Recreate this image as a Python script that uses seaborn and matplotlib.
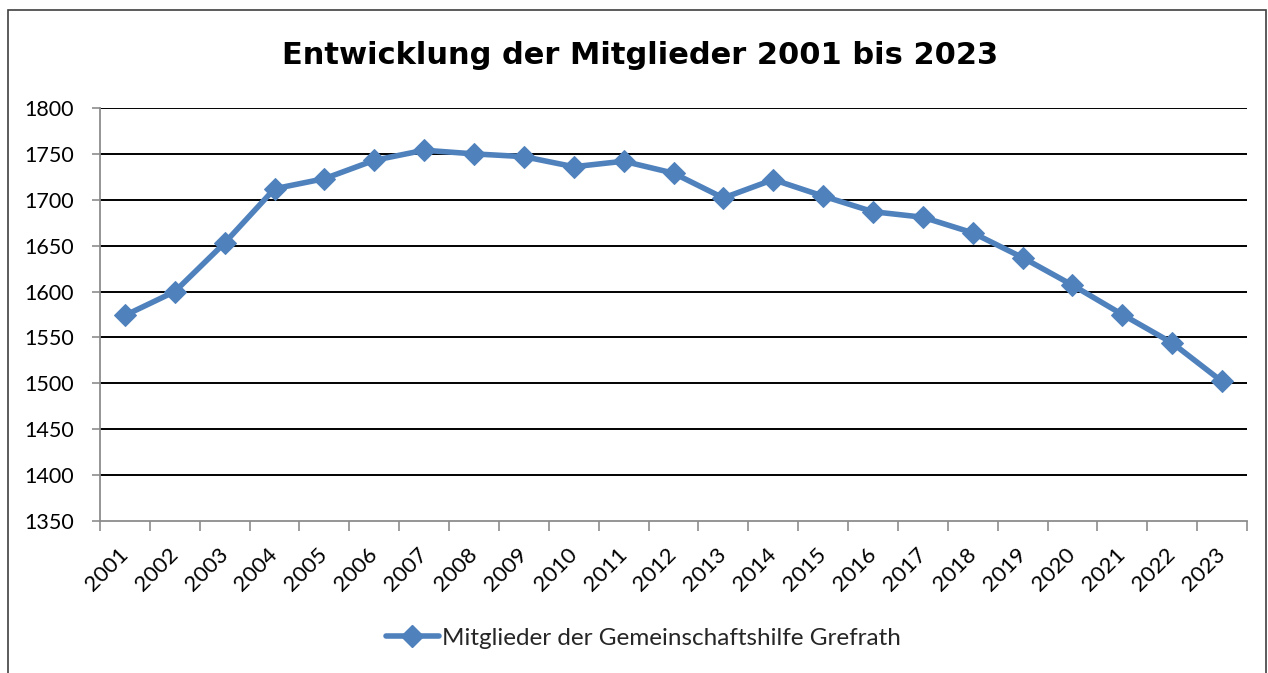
import matplotlib
matplotlib.use("Agg")
import matplotlib.pyplot as plt
import matplotlib.transforms as mtransforms
import seaborn as sns
import pandas as pd
from matplotlib.patches import Rectangle
from matplotlib.lines import Line2D

years = [str(y) for y in range(2001, 2024)]
members = [1574, 1600, 1653, 1712, 1723, 1743, 1754, 1750, 1747, 1736, 1742, 1729,
           1702, 1722, 1704, 1687, 1681, 1664, 1637, 1607, 1575, 1544, 1502]
series_name = "Mitglieder der Gemeinschaftshilfe Grefrath"
title = "Entwicklung der Mitglieder 2001 bis 2023"
yticks = [1350, 1400, 1450, 1500, 1550, 1600, 1650, 1700, 1750, 1800]

sns.set_theme(style="white")
plt.rcParams['font.family'] = ['Lato', 'DejaVu Sans']

df = pd.DataFrame({"Jahr": years, "Mitglieder": members})

W, H = 1268, 673
fig = plt.figure(figsize=(W / 100, H / 100), dpi=100)
fig.patch.set_facecolor("white")

# outer chart border
fig.patches.append(Rectangle((8 / W, -0.02), (1266 - 8) / W, 1 - 10 / H + 0.02,
                             transform=fig.transFigure, fill=False,
                             edgecolor="#404040", linewidth=1.2))

ax = fig.add_axes([100 / W, (H - 521) / H, (1247 - 100) / W, (521 - 108) / H])
color = "#4F81BD"
sns.lineplot(data=df, x="Jahr", y="Mitglieder", ax=ax, color=color, linewidth=4,
             marker="D", markersize=11, markeredgecolor=color, sort=False, legend=False)

ax.set_xlim(-0.5, len(years) - 0.5)
ax.set_ylim(1350, 1800)
ax.set_yticks(yticks)
ax.set_yticklabels([str(v) for v in yticks], fontsize=15.5, color="black")
ax.set_xticks(range(len(years)))
ax.set_xticklabels(years, rotation=45, ha="right", rotation_mode="anchor",
                   fontsize=16, color="black")
ax.set_xlabel("")
ax.set_ylabel("")

ax.grid(False)
for v in yticks[1:]:
    ax.axhline(v, color="black", linewidth=1.4, zorder=0)

for s in ["top", "right"]:
    ax.spines[s].set_visible(False)
for s in ["left", "bottom"]:
    ax.spines[s].set_color("#8c8c8c")
    ax.spines[s].set_linewidth(1.3)

ax.tick_params(axis="y", which="major", direction="out", length=6, width=1.2,
               color="#8c8c8c", pad=13, left=True)
ax.tick_params(axis="x", which="major", length=0, pad=17)
ax.set_xticks([i - 0.5 for i in range(len(years) + 1)], minor=True)
ax.tick_params(axis="x", which="minor", direction="out", length=7, width=1.2,
               color="#8c8c8c", bottom=True)
offset = mtransforms.ScaledTranslation(-5 / 72, 0, fig.dpi_scale_trans)
for lab in ax.get_xticklabels():
    lab.set_transform(lab.get_transform() + offset)

fig.text(640 / W, 1 - 55 / H, title, ha="center", va="center", fontsize=22,
         fontweight="bold", family=["DejaVu Sans"], color="black")

handle = Line2D([], [], color=color, linewidth=4, marker="D", markersize=11,
                markeredgecolor=color)
fig.legend([handle], [series_name], loc="center", bbox_to_anchor=(643 / W, 1 - 638 / H),
           frameon=False, fontsize=17.5, handlelength=2.2, handletextpad=0.1)

fig.savefig("out.png", dpi=100, facecolor="white")
